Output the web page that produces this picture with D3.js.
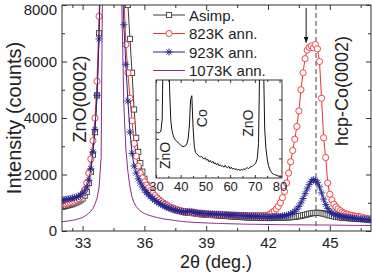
<!DOCTYPE html>
<html><head><meta charset="utf-8">
<script src="https://cdn.jsdelivr.net/npm/d3@7"></script>
<style>html,body{margin:0;padding:0;background:#fff;} svg{display:block;font-family:"Liberation Sans",Arial,sans-serif;}</style>
</head><body><svg id="c" width="372" height="273"></svg>
<script>
// ---------- data ----------
const twoThetaStart = 32.0, twoThetaStep = 0.1;
const asimp = [850,870,890,910,930,950,980,1010,1050,1090,1150,
 1250,1380,1700,2100,2700,3500,4800,7000,11000,
 18000,30000,45000,56000,60000,56000,45000,33000,24000,17000,
 13000,10000,8000,6800,5600,4300,3300,2800,2400,2100,
 1850,1640,1500,1390,1300,1220,1150,1090,1030,980,
 930,890,850,820,790,760,740,720,700,680,
 660,650,650,640,630,620,610,600,590,585,
 580,575,570,565,560,555,550,545,540,535,
 530,525,520,515,510,505,500,495,490,485,
 480,478,476,474,472,470,468,466,464,462,
 460,460,462,465,468,470,472,475,478,480,
 485,490,495,505,515,525,540,555,570,590,
 610,625,635,640,645,640,630,615,595,575,
 555,535,520,505,495,485,475,468,460,455,
 450,445,440,435,430,426,422,418,414,410,405];
const ann823 = [950,960,975,990,1010,1030,1060,1100,1150,1210,1290,
 1450,1700,2050,2550,3200,4000,5300,7600,12000,
 20000,32000,47000,58000,62000,58000,46000,30000,20000,12500,
 8500,6600,5600,4700,3900,3100,2650,2300,2050,1880,
 1740,1620,1520,1430,1340,1250,1170,1100,1040,990,
 940,900,860,830,800,775,750,730,710,695,
 680,670,665,655,645,635,625,618,612,606,
 600,596,592,588,584,580,577,574,571,568,
 565,562,560,558,556,554,552,550,548,546,
 545,544,543,542,541,540,542,545,548,552,
 560,600,650,710,780,870,1000,1180,1400,1700,
 2050,2450,2850,3250,3700,4250,5000,5600,6100,6400,
 6500,6550,6480,6600,6450,6000,4700,3300,2600,1700,
 1300,1100,950,850,780,720,670,630,600,580,
 560,545,530,520,510,495,470,455,440,430,420];
const ann923 = [1100,1110,1120,1135,1150,1165,1180,1200,1230,1270,1330,
 1420,1560,1800,2200,2800,3600,4800,6800,10500,
 18000,30000,45000,56000,60000,55000,42000,27000,16000,10000,
 7300,5900,4600,3500,2750,2300,2050,1850,1700,1560,
 1450,1360,1280,1210,1150,1090,1040,990,950,910,
 870,840,810,785,760,740,720,705,690,680,
 675,685,695,685,665,650,640,632,625,620,
 615,610,606,602,598,594,590,586,582,578,
 574,570,566,562,558,554,550,546,542,538,
 534,530,527,524,521,518,515,512,510,508,
 505,505,506,508,511,515,520,528,540,555,
 575,605,645,700,770,870,1000,1150,1320,1490,
 1640,1760,1820,1800,1720,1560,1350,1130,940,800,
 700,640,600,570,550,530,515,500,490,480,
 470,460,450,440,432,425,418,410,404,398,392];
const ann1073 = [330,338,346,355,365,378,392,410,430,455,480,
 520,570,630,700,800,950,1150,1550,2600,
 12000,40000,70000,90000,95000,90000,70000,40000,14000,8200,
 4500,2900,2100,1550,1200,1000,870,780,710,660,
 620,590,560,540,520,500,480,465,450,435,
 420,410,400,390,380,370,360,350,342,335,
 325,320,315,310,306,302,298,294,291,288,
 285,282,279,276,273,270,268,266,264,262,
 260,258,256,254,252,250,248,246,244,242,
 240,239,238,237,236,235,234,233,232,231,
 230,229,228,227,226,225,224,223,222,221,
 220,220,219,219,218,218,217,217,216,216,
 215,215,215,214,214,213,213,212,212,211,
 210,209,208,207,206,205,204,203,202,201,
 200,200,199,199,198,198,197,197,196,196,195];
const seriesNames = ["Asimp.","823K ann.","923K ann.","1073K ann."];
const xTicks = [33,36,39,42,45];
const xMinor = [32.5,34.5,37.5,40.5,43.5,46.5];
const yTicks = [0,2000,4000,6000,8000];
const yMinor = [1000,3000,5000,7000];
const hcpPeakPos = 44.33, arrowPos = 43.85;

// inset (wide scan)
const insetStart = 30, insetStep = 0.5;
const insetCounts = [47,46.5,46,46.5,48,60,150,400,800,900,300,90,58,48,43,40,38.5,37,36,35,
 33.5,32.5,32,32.5,33,35,40,53,80,84,52,32,26,24.5,23.5,22,21.5,22,20,19.5,
 20.5,18,19,16.5,18,15.5,17,14.5,15.5,13.5,15,12.5,13.5,12,12.5,11,13,11,10.5,12,
 9.5,11,9,10,8.5,9.5,8,9,7.5,9,8,9.5,8.5,10,10.5,9.5,11,11.5,12,13,
 14,16,20,35,120,500,400,120,50,30,20,13,9,6.5,5,4,3.5,3,2.5,2,1.5,1.5,1];
const insetTicks = [30,40,50,60,70,80];
const insetMinor = [35,45,55,65,75];

// ---------- drawing ----------
const svg = d3.select("#c");
const x = d3.scaleLinear().domain([32,47]).range([62,371]);
const y = d3.scaleLinear().domain([0,8000]).range([231,5]);
const toPts = arr => arr.map((v,i)=>[+(twoThetaStart+i*twoThetaStep).toFixed(2), v]);

svg.append("defs").append("clipPath").attr("id","plotClip")
  .append("rect").attr("x",62).attr("y",5).attr("width",309).attr("height",226);
svg.select("defs").append("marker").attr("id","arr").attr("viewBox","0 0 10 10")
  .attr("refX",9).attr("refY",5).attr("markerWidth",6).attr("markerHeight",7).attr("orient","auto")
  .append("path").attr("d","M0,1 L10,5 L0,9 Z").attr("fill","#111");

const plot = svg.append("g").attr("clip-path","url(#plotClip)");
const line = d3.line().x(d=>x(d[0])).y(d=>y(d[1]));

// dashed line
plot.append("line").attr("x1",x(hcpPeakPos)).attr("x2",x(hcpPeakPos)).attr("y1",y(8000)).attr("y2",y(0))
  .attr("stroke","#555").attr("stroke-width",1.1).attr("stroke-dasharray","5,3");

const colBlack="#3a3a3a", colRed="#ee3333", colBlue="#25258f", colPurple="#8a2a8a";
const starPath = r => { const k=r*0.72; return `M0,${-r}L0,${r}M${-r},0L${r},0M${-k},${-k}L${k},${k}M${-k},${k}L${k},${-k}`; };

// Asimp
const pA = toPts(asimp);
plot.append("path").attr("d",line(pA)).attr("fill","none").attr("stroke",colBlack).attr("stroke-width",1);
plot.selectAll(".sq").data(pA).enter().append("rect").attr("class","sq")
  .attr("x",d=>x(d[0])-2.6).attr("y",d=>y(d[1])-2.6).attr("width",5.2).attr("height",5.2)
  .attr("fill","#fff").attr("stroke",colBlack).attr("stroke-width",0.9);
// 823K
const pR = toPts(ann823);
plot.append("path").attr("d",line(pR)).attr("fill","none").attr("stroke",colRed).attr("stroke-width",1);
plot.selectAll(".ci").data(pR).enter().append("circle").attr("class","ci")
  .attr("cx",d=>x(d[0])).attr("cy",d=>y(d[1])).attr("r",3.1)
  .attr("fill","#fff").attr("stroke",colRed).attr("stroke-width",0.9);
// 923K
const pB = toPts(ann923);
plot.append("path").attr("d",line(pB)).attr("fill","none").attr("stroke",colBlue).attr("stroke-width",1);
plot.selectAll(".st").data(pB).enter().append("path").attr("class","st")
  .attr("transform",d=>`translate(${x(d[0])},${y(d[1])})`).attr("d",starPath(3.6))
  .attr("fill","none").attr("stroke",colBlue).attr("stroke-width",0.9);
// 1073K
const pP = toPts(ann1073);
plot.append("path").attr("d",line(pP)).attr("fill","none").attr("stroke",colPurple).attr("stroke-width",1);

// arrow
svg.append("line").attr("x1",x(arrowPos)).attr("x2",x(arrowPos)).attr("y1",y(7900)).attr("y2",y(6680))
  .attr("stroke","#111").attr("stroke-width",1).attr("marker-end","url(#arr)");

// axes
function styleAxis(g){ g.select(".domain").remove(); g.selectAll("line").attr("stroke","#333");
  g.selectAll("text").attr("fill","#222").style("font-size","15px").style("font-family","'Liberation Sans',Arial,sans-serif"); }
svg.append("g").attr("transform","translate(0,231)").call(d3.axisBottom(x).tickValues(xTicks).tickSize(-5).tickPadding(6).tickFormat(d3.format("d"))).call(styleAxis);
svg.append("g").attr("transform","translate(0,231)").call(d3.axisBottom(x).tickValues(xMinor).tickSize(-3).tickFormat("")).call(styleAxis);
svg.append("g").attr("transform","translate(0,5)").call(d3.axisTop(x).tickValues(xTicks).tickSize(-5).tickFormat("")).call(styleAxis);
svg.append("g").attr("transform","translate(0,5)").call(d3.axisTop(x).tickValues(xMinor).tickSize(-3).tickFormat("")).call(styleAxis);
const yAx = svg.append("g").attr("transform","translate(62,0)").call(d3.axisLeft(y).tickValues(yTicks).tickSize(-5).tickPadding(5).tickFormat(d3.format("d"))).call(styleAxis);
yAx.selectAll(".tick").filter(d=>d===8000).select("text").attr("dy","0.6em");
svg.append("g").attr("transform","translate(62,0)").call(d3.axisLeft(y).tickValues(yMinor).tickSize(-3).tickFormat("")).call(styleAxis);
svg.append("g").attr("transform","translate(371,0)").call(d3.axisRight(y).tickValues(yTicks).tickSize(-5).tickFormat("")).call(styleAxis);
svg.append("g").attr("transform","translate(371,0)").call(d3.axisRight(y).tickValues(yMinor).tickSize(-3).tickFormat("")).call(styleAxis);
svg.append("rect").attr("x",62).attr("y",5).attr("width",309).attr("height",226).attr("fill","none").attr("stroke","#333").attr("stroke-width",1);

// axis titles
svg.append("text").attr("x",216).attr("y",268).attr("text-anchor","middle").style("font-size","18px").attr("fill","#222").text("2θ (deg.)");
svg.append("text").attr("transform","translate(21,118) rotate(-90)").attr("text-anchor","middle").style("font-size","20px").attr("fill","#222").text("Intensity (counts)");

// peak labels
svg.append("text").attr("transform",`translate(86,99) rotate(-90)`).attr("text-anchor","middle").style("font-size","18px").attr("fill","#222").text("ZnO(0002)");
svg.append("text").attr("transform",`translate(348,91) rotate(-90)`).attr("text-anchor","middle").style("font-size","18px").attr("fill","#222").text("hcp-Co(0002)");

// legend
const leg = svg.append("g");
const legY = i => 15 + i*18.5;
const legCol = [colBlack,colRed,colBlue,colPurple];
seriesNames.forEach((nm,i)=>{
  const g = leg.append("g").attr("transform",`translate(0,${legY(i)})`);
  g.append("line").attr("x1",153).attr("x2",185).attr("y1",0).attr("y2",0).attr("stroke",legCol[i]).attr("stroke-width",1);
  if(i===0) g.append("rect").attr("x",169-2.6).attr("y",-2.6).attr("width",5.2).attr("height",5.2).attr("fill","#fff").attr("stroke",colBlack).attr("stroke-width",0.9);
  if(i===1) g.append("circle").attr("cx",169).attr("cy",0).attr("r",3.1).attr("fill","#fff").attr("stroke",colRed).attr("stroke-width",0.9);
  if(i===2) g.append("path").attr("transform","translate(169,0)").attr("d",starPath(3.6)).attr("fill","none").attr("stroke",colBlue).attr("stroke-width",0.9);
  g.append("text").attr("x",189).attr("y",5.5).style("font-size","15px").attr("fill","#222").text(nm);
});

// inset
const x2 = d3.scaleLinear().domain([30,81]).range([156,282]);
const y2 = d3.scaleLinear().domain([0,100]).range([178,80]);
svg.select("defs").append("clipPath").attr("id","insClip").append("rect").attr("x",156).attr("y",80).attr("width",126).attr("height",98);
svg.append("rect").attr("x",156).attr("y",80).attr("width",126).attr("height",98).attr("fill","#fff");
const pI = insetCounts.map((v,i)=>[insetStart+i*insetStep, v]);
svg.append("g").attr("clip-path","url(#insClip)").append("path")
  .attr("d",d3.line().x(d=>x2(d[0])).y(d=>y2(d[1]))(pI)).attr("fill","none").attr("stroke","#111").attr("stroke-width",1);
function styleIn(g){ g.select(".domain").remove(); g.selectAll("line").attr("stroke","#333");
  g.selectAll("text").attr("fill","#222").style("font-size","13px").style("font-family","'Liberation Sans',Arial,sans-serif"); }
svg.append("g").attr("transform","translate(0,178)").call(d3.axisBottom(x2).tickValues(insetTicks).tickSize(-3).tickPadding(4).tickFormat(d3.format("d"))).call(styleIn);
svg.append("g").attr("transform","translate(0,178)").call(d3.axisBottom(x2).tickValues(insetMinor).tickSize(-2).tickFormat("")).call(styleIn);
svg.append("g").attr("transform","translate(0,80)").call(d3.axisTop(x2).tickValues(insetTicks).tickSize(-3).tickFormat("")).call(styleIn);
svg.append("g").attr("transform","translate(0,80)").call(d3.axisTop(x2).tickValues(insetMinor).tickSize(-2).tickFormat("")).call(styleIn);
svg.append("g").attr("transform","translate(156,0)").call(d3.axisLeft(y2).tickValues([20,40,60,80]).tickSize(-3).tickFormat("")).call(styleIn);
svg.append("g").attr("transform","translate(282,0)").call(d3.axisRight(y2).tickValues([20,40,60,80]).tickSize(-3).tickFormat("")).call(styleIn);
svg.append("rect").attr("x",156).attr("y",80).attr("width",126).attr("height",98).attr("fill","none").attr("stroke","#333").attr("stroke-width",1);
const insLab = [{t:"ZnO",d:35.7,v:23},{t:"Co",d:50.8,v:61},{t:"ZnO",d:69.2,v:56}];
insLab.forEach(l=>{
  svg.append("text").attr("transform",`translate(${x2(l.d)},${y2(l.v)}) rotate(-90)`).attr("text-anchor","middle")
    .style("font-size","14px").attr("fill","#222").text(l.t);
});
</script></body></html>
